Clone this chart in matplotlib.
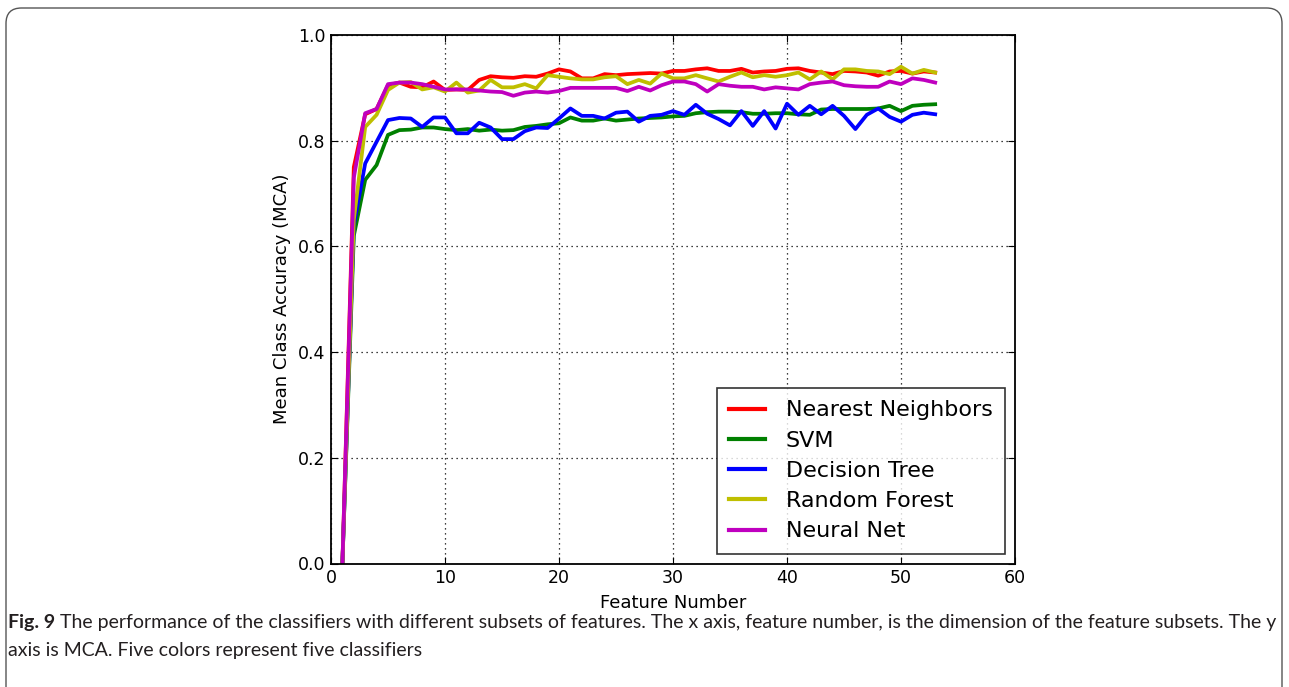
import matplotlib
matplotlib.use("Agg")
import matplotlib.pyplot as plt
from matplotlib.patches import FancyBboxPatch

features = list(range(1, 54))

nearest_neighbors = [0.0, 0.75, 0.85, 0.86, 0.905, 0.91, 0.902, 0.901, 0.912, 0.896,
                     0.897, 0.896, 0.915, 0.922, 0.920, 0.919, 0.922, 0.921, 0.927, 0.935,
                     0.931, 0.918, 0.918, 0.926, 0.924, 0.926, 0.927, 0.928, 0.927, 0.932,
                     0.932, 0.935, 0.937, 0.932, 0.932, 0.936, 0.929, 0.931, 0.932, 0.936,
                     0.937, 0.932, 0.929, 0.926, 0.932, 0.931, 0.929, 0.923, 0.931, 0.932,
                     0.927, 0.931, 0.929]
svm = [0.0, 0.62, 0.726, 0.754, 0.811, 0.820, 0.821, 0.825, 0.825, 0.822,
       0.820, 0.822, 0.819, 0.821, 0.819, 0.820, 0.826, 0.828, 0.831, 0.833,
       0.844, 0.838, 0.838, 0.842, 0.838, 0.840, 0.842, 0.843, 0.844, 0.846,
       0.847, 0.852, 0.854, 0.855, 0.855, 0.854, 0.851, 0.851, 0.852, 0.852,
       0.850, 0.849, 0.859, 0.860, 0.860, 0.860, 0.860, 0.861, 0.866, 0.856,
       0.866, 0.868, 0.869]
decision_tree = [0.0, 0.64, 0.757, 0.798, 0.839, 0.843, 0.842, 0.826, 0.844, 0.844,
                 0.814, 0.814, 0.834, 0.825, 0.803, 0.803, 0.818, 0.825, 0.824, 0.842,
                 0.861, 0.847, 0.847, 0.842, 0.853, 0.855, 0.836, 0.847, 0.849, 0.856,
                 0.849, 0.868, 0.851, 0.841, 0.829, 0.856, 0.828, 0.856, 0.823, 0.870,
                 0.849, 0.866, 0.850, 0.866, 0.847, 0.822, 0.849, 0.861, 0.845, 0.836,
                 0.849, 0.853, 0.850]
random_forest = [0.0, 0.65, 0.826, 0.849, 0.896, 0.910, 0.911, 0.897, 0.901, 0.893,
                 0.910, 0.891, 0.895, 0.915, 0.901, 0.901, 0.907, 0.899, 0.924, 0.921,
                 0.918, 0.916, 0.916, 0.920, 0.922, 0.907, 0.915, 0.908, 0.927, 0.918,
                 0.918, 0.924, 0.918, 0.912, 0.921, 0.929, 0.920, 0.924, 0.921, 0.924,
                 0.929, 0.916, 0.931, 0.916, 0.935, 0.935, 0.932, 0.931, 0.926, 0.940,
                 0.927, 0.934, 0.929]
neural_net = [0.0, 0.73, 0.852, 0.860, 0.907, 0.910, 0.910, 0.907, 0.902, 0.897,
              0.897, 0.897, 0.895, 0.893, 0.892, 0.885, 0.891, 0.893, 0.891, 0.894,
              0.900, 0.900, 0.900, 0.900, 0.900, 0.894, 0.902, 0.895, 0.905, 0.912,
              0.912, 0.907, 0.893, 0.907, 0.904, 0.902, 0.902, 0.897, 0.901, 0.899,
              0.897, 0.907, 0.910, 0.912, 0.905, 0.903, 0.902, 0.902, 0.912, 0.907,
              0.918, 0.915, 0.910]

series = [("Nearest Neighbors", nearest_neighbors, (1.0, 0.0, 0.0)),
          ("SVM", svm, (0.0, 0.5, 0.0)),
          ("Decision Tree", decision_tree, (0.0, 0.0, 1.0)),
          ("Random Forest", random_forest, (0.75, 0.75, 0.0)),
          ("Neural Net", neural_net, (0.75, 0.0, 0.75))]

x_ticks = [0, 10, 20, 30, 40, 50, 60]
y_ticks = [0.0, 0.2, 0.4, 0.6, 0.8, 1.0]

W, H = 1289, 687
fig = plt.figure(figsize=(W / 100, H / 100), dpi=100)
fig.patch.set_facecolor("white")

# caption frame
frame = FancyBboxPatch((6 / W, -0.05), (1282 - 6) / W, (H - 8) / H + 0.05,
                       boxstyle="round,pad=0,rounding_size=0.012",
                       transform=fig.transFigure, facecolor="none",
                       edgecolor="#555555", linewidth=1.0, mutation_aspect=W / H)
fig.patches.append(frame)

ax = fig.add_axes([331 / W, 1 - 563.5 / H, (1015 - 331) / W, (563.5 - 35) / H])
for name, vals, col in series:
    ax.plot(features, vals, color=col, linewidth=2.7, label=name)

ax.set_xlim(0, 60)
ax.set_ylim(0, 1.0)
ax.set_xticks(x_ticks)
ax.set_yticks(y_ticks)
ax.set_yticklabels([f"{v:.1f}" for v in y_ticks])
ax.grid(True, color="black", linestyle=(0, (1, 3)), linewidth=0.9)
ax.tick_params(direction="in", top=True, right=True, labelsize=12.5, length=5, pad=4)
for s in ax.spines.values():
    s.set_linewidth(1.3)
ax.set_xlabel("Feature Number", fontsize=13, labelpad=5)
ax.set_ylabel("Mean Class Accuracy (MCA)", fontsize=13, labelpad=5)

leg = ax.legend(loc="lower right", fontsize=16, frameon=True, fancybox=False,
                edgecolor="black", handlelength=1.6, labelspacing=0.46,
                borderaxespad=0.45, handletextpad=0.95, borderpad=0.55)
leg.get_frame().set_linewidth(1.2)
for ln in leg.get_lines():
    ln.set_linewidth(3)

# caption text, fitted to width
cap_color = "#231f20"
bold_txt = "Fig. 9"
line1 = " The performance of the classifiers with different subsets of features. The x axis, feature number, is the dimension of the feature subsets. The y"
line2 = "axis is MCA. Five colors represent five classifiers"
fam = ["Lato", "DejaVu Sans"]

fig.canvas.draw()
r = fig.canvas.get_renderer()
fs = 13.0
tb = fig.text(8 / W, 1 - 628 / H, bold_txt, fontsize=fs, fontweight="bold",
              family=fam, color=cap_color, va="baseline", ha="left")
tn = fig.text(0, 1 - 628 / H, line1, fontsize=fs, family=fam, color=cap_color,
              va="baseline", ha="left")
wb = tb.get_window_extent(r).width
wn = tn.get_window_extent(r).width
scale = (1275 - 8) / (wb + wn)
fs *= scale
tb.set_fontsize(fs)
tn.set_fontsize(fs)
wb = tb.get_window_extent(r).width
tn.set_x((8 + wb) / W)
fig.text(8 / W, 1 - 656 / H, line2, fontsize=fs, family=fam, color=cap_color,
         va="baseline", ha="left")

fig.savefig("out.png", dpi=100, facecolor="white")
